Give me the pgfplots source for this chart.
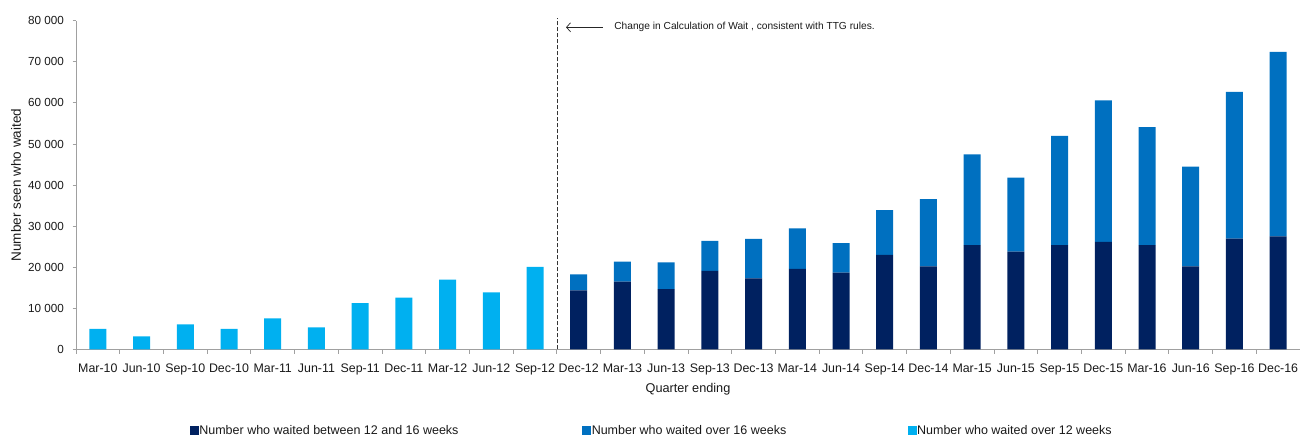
\documentclass[border=0pt]{standalone}
\usepackage{pgfplots}
\usepackage{pgfplotstable}
\usepackage{fontspec}
\setmainfont{Liberation Sans}
\pgfplotsset{compat=1.18}
\usetikzlibrary{arrows.meta}
\definecolor{navyc}{RGB}{0,33,96}
\definecolor{midc}{RGB}{0,112,192}
\definecolor{lightc}{RGB}{0,176,240}
\definecolor{axgray}{RGB}{160,160,160}
\definecolor{txt}{RGB}{25,25,25}

\pgfplotstableread{
x dark over16
11 14400 3900
12 16500 4900
13 14700 6500
14 19100 7300
15 17300 9600
16 19600 9900
17 18700 7200
18 23000 10900
19 20200 16400
20 25400 22100
21 23800 18000
22 25400 26600
23 26200 34400
24 25400 28700
25 20200 24300
26 27000 35700
27 27500 44900
}\stacked

\pgfplotstableread{
x over12
0 5000
1 3200
2 6100
3 5000
4 7600
5 5400
6 11300
7 12600
8 17000
9 13900
10 20100
}\early

\pgfplotsset{
  common/.style={
    scale only axis,
    width=1224pt, height=328.8pt,
    xmin=-0.5, xmax=27.5,
    ymin=0, ymax=80000,
    clip=false,
  }
}

\begin{document}
\begin{tikzpicture}
\begin{axis}[
  common,
  name=main,
  ybar stacked,
  bar width=17pt,
  axis lines*=left,
  axis line style={draw=axgray, line width=0.9pt},
  tick align=outside,
  ytick={0,10000,...,80000},
  scaled y ticks=false,
  /pgf/number format/fixed,
  /pgf/number format/1000 sep={\ },
  /pgf/number format/assume math mode=true,
  yticklabel style={font=\fontsize{11.7}{13}\selectfont, text=txt, xshift=-5pt},
  major tick length=3.5pt,
  y tick style={draw=axgray, line width=0.9pt},
  xtick={0,...,27},
  xticklabels={Mar-10,Jun-10,Sep-10,Dec-10,Mar-11,Jun-11,Sep-11,Dec-11,Mar-12,Jun-12,Sep-12,Dec-12,Mar-13,Jun-13,Sep-13,Dec-13,Mar-14,Jun-14,Sep-14,Dec-14,Mar-15,Jun-15,Sep-15,Dec-15,Mar-16,Jun-16,Sep-16,Dec-16},
  xticklabel style={font=\fontsize{12.4}{14}\selectfont, text=txt, yshift=-7pt},
  major x tick style={draw=none},
  minor xtick={-0.5,0.5,...,27.5},
  minor x tick style={draw=axgray, line width=0.9pt},
  minor tick length=4pt,
  xlabel={Quarter ending},
  xlabel style={at={(axis description cs:0.5,-0.12)}, anchor=center, font=\fontsize{12.7}{14}\selectfont, text=txt},
  ylabel={Number seen who waited},
  ylabel style={at={(axis description cs:-0.049,0.5)}, anchor=center, font=\fontsize{13.5}{15}\selectfont, text=txt},
  legend columns=3,
  legend style={draw=none, fill=none, inner sep=0pt, outer sep=0pt,
    at={(axis description cs:0.0931,-0.2464)}, anchor=west,
    column sep=0pt,
    nodes={inner xsep=1pt, inner ysep=0pt, font=\fontsize{12.5}{14}\selectfont, text=txt}},
]
\addplot[fill=navyc, draw=none, forget plot] table[x=x, y=dark] {\stacked};
\addplot[fill=midc, draw=none, forget plot] table[x=x, y=over16] {\stacked};
\addlegendimage{legend image code/.code={\fill[navyc] (0pt,-4pt) rectangle (8pt,4pt);}}
\addlegendentry{\makebox[382pt][l]{Number who waited between 12 and 16 weeks}}
\addlegendimage{legend image code/.code={\fill[midc] (0pt,-4pt) rectangle (8pt,4pt);}}
\addlegendentry{\makebox[315pt][l]{Number who waited over 16 weeks}}
\addlegendimage{legend image code/.code={\fill[lightc] (0pt,-4pt) rectangle (8pt,4pt);}}
\addlegendentry{Number who waited over 12 weeks}
\draw[black!80, line width=0.7pt, dash pattern=on 4pt off 2pt] (axis cs:10.5,0) -- (axis cs:10.5,80700);
\draw[{Straight Barb[length=4pt,width=9pt]}-, black!85, line width=0.7pt] (axis cs:10.71,78400) -- (axis cs:11.55,78400);
\node[anchor=west, inner sep=0pt, font=\fontsize{10.2}{12}\selectfont, text=txt] at (axis cs:11.81,78400) {Change in Calculation of Wait , consistent with TTG rules.};
\end{axis}
\begin{axis}[
  common,
  hide axis,
  ybar,
  bar width=17pt,
  bar shift=0pt,
]
\addplot[fill=lightc, draw=none] table[x=x, y=over12] {\early};
\end{axis}
\pgfresetboundingbox
\path ([xshift=-76pt,yshift=-87.5pt]main.south west) rectangle ([yshift=20.7pt]main.north east);
\end{tikzpicture}
\end{document}
